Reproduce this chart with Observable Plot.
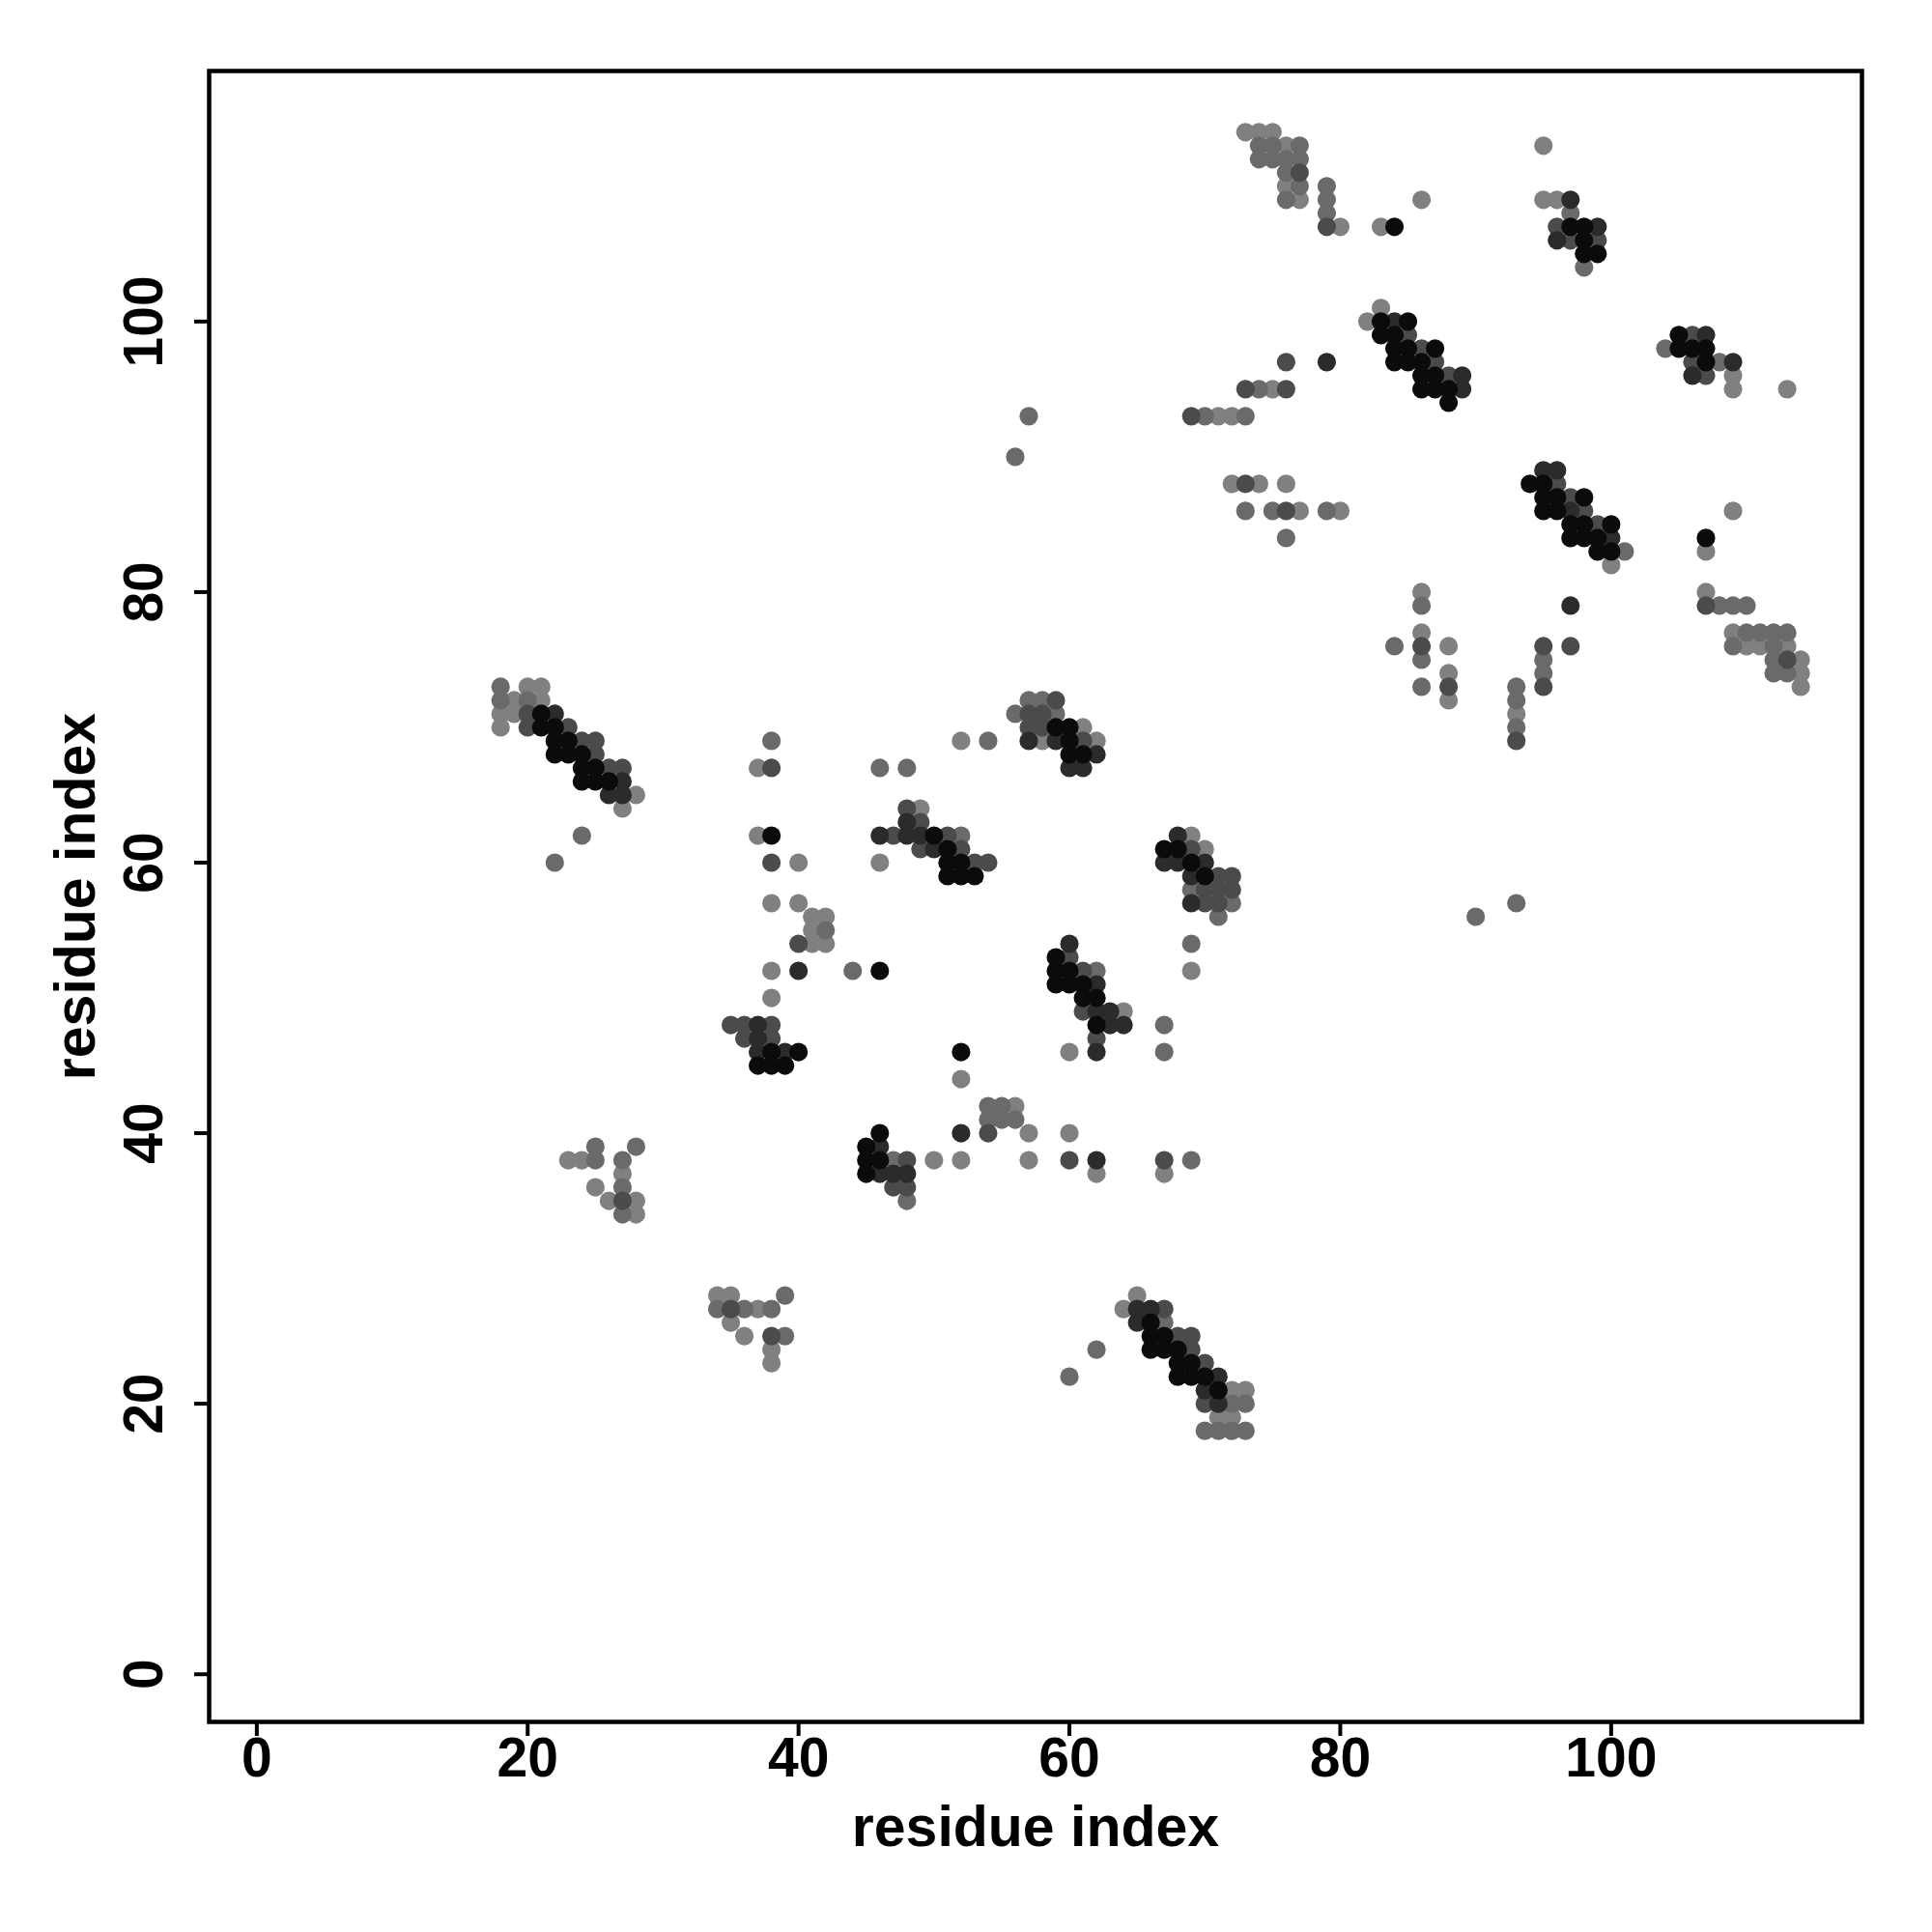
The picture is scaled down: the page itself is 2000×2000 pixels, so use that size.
<!DOCTYPE html>
<html><head><meta charset="utf-8">
<script src="https://cdn.jsdelivr.net/npm/d3@7"></script>
<script src="https://cdn.jsdelivr.net/npm/@observablehq/plot@0.6"></script>
<style>body{margin:0;background:#fff;} svg{display:block;}</style>
</head><body><div id="chart"></div>
<script>
const xTicks = [0, 20, 40, 60, 80, 100];
const yTicks = [0, 20, 40, 60, 80, 100];
const axisTitle = "residue index";
const shadeColors = ["#0b0b0b", "#2b2b2b", "#4b4b4b", "#6a6a6a", "#808080"];

const contactsBlack = [[84,107],[83,100],[85,100],[83,99],[84,99],[84,98],[85,98],[87,98],[84,97],[85,97],[86,97],[86,96],[87,96],[86,95],[87,95],[88,95],[88,94],
[97,107],[98,107],[98,106],[98,105],[99,105],[105,99],[105,98],[106,98],[107,98],[107,97],
[94,88],[95,88],[95,87],[96,87],[98,87],[95,86],[96,86],[97,85],[98,85],[100,85],[97,84],[98,84],[99,84],[99,83],[100,83],[107,84],
[21,71],[21,70],[22,70],[22,69],[23,69],[22,68],[23,68],[24,68],[24,67],[25,67],[24,66],[25,66],[26,66],[38,62],
[50,62],[51,61],[51,60],[52,60],[51,59],[52,59],[53,59],[46,52],[38,46],[40,46],[37,45],[38,45],[39,45],[52,46],
[59,70],[60,70],[60,69],[60,68],[61,68],
[67,61],[68,61],[69,60],[70,59],
[59,53],[59,52],[60,52],[59,51],[60,51],[61,51],[61,50],[62,50],[62,48],
[46,40],[45,39],[45,38],[46,38],[45,37],
[66,26],[66,25],[67,25],[66,24],[67,24],[68,24],[68,23],[69,23],[68,22],[69,22],[70,22],[71,21]];

const contactsDark = [[84,100],[79,97],[89,96],[89,95],[97,109],[99,107],[96,106],[107,99],[109,97],[106,96],[95,89],[96,89],[97,86],[100,84],[97,79],
[22,71],[27,66],[26,65],[27,65],[48,63],[46,62],[48,62],[49,62],[50,61],[40,52],[37,48],[37,47],[37,46],[39,46],[62,46],
[57,69],[59,69],[62,68],[60,67],[61,67],
[68,62],[67,60],[68,60],[70,60],[69,59],[69,57],
[60,54],[62,51],[62,49],[63,49],[63,48],[64,48],
[52,40],[46,39],[46,37],[47,37],[48,37],[62,38],
[65,27],[66,27],[65,26],[71,22],[70,21],[71,20]];

const contactsMedium = [[79,107],[77,111],[85,99],[86,98],[87,97],[76,97],[88,96],[73,95],[76,95],[69,93],[73,88],[76,86],
[96,107],[97,106],[99,106],[106,99],[106,97],[107,96],[96,88],[97,87],[98,86],[99,85],
[107,79],[86,76],[95,76],[97,76],[113,75],[88,73],[95,73],[93,69],
[20,71],[20,70],[23,70],[24,69],[25,69],[25,68],[26,67],[27,67],[38,67],[38,60],
[48,64],[49,63],[47,62],[51,62],[49,61],[52,61],[53,60],[54,60],[40,54],[35,48],[36,48],[38,48],[36,47],[38,47],
[59,72],[57,71],[58,71],[57,70],[58,70],[61,69],
[69,61],[71,59],[72,59],[70,58],[71,58],[72,58],[70,57],[71,57],
[60,53],[61,52],[61,49],[62,47],
[54,40],[48,38],[60,38],[47,36],[48,36],[67,38],
[27,35],[35,27],[38,25],
[67,27],[68,25],[69,25],[69,24],[70,23],[70,20]];

const contactsGray = [[74,113],[75,113],[77,113],[74,112],[75,112],[76,112],[77,112],[76,111],[77,110],[79,110],[76,109],[79,109],[79,108],
[74,95],[70,93],[73,93],[73,86],[75,86],[79,86],[76,84],[57,93],[56,90],
[97,108],[98,104],[104,98],[108,97],[101,83],
[86,79],[108,79],[109,79],[110,79],[110,77],[111,77],[112,77],[113,77],[84,76],[109,76],[112,76],[86,75],[95,75],[112,75],[95,74],[112,74],[113,74],[86,73],[93,73],[93,72],[93,70],[93,57],[90,56],
[18,73],[18,72],[20,72],[24,62],[22,60],[38,69],
[54,69],[46,67],[48,67],[52,62],[42,55],[44,52],
[57,72],[58,72],[56,71],[59,71],
[69,58],[72,57],[71,56],[69,54],
[62,52],[67,48],[67,46],
[54,42],[55,42],[54,41],[55,41],[56,41],[47,38],[48,35],[69,38],
[25,39],[28,39],[25,38],[27,38],[27,36],[27,34],
[39,28],[34,27],[36,27],[38,27],[39,25],
[67,26],[62,24],[60,22],[72,20],[73,20],[70,18],[71,18],[72,18],[73,18]];

const contactsLight = [[73,114],[74,114],[75,114],[76,113],[76,110],[77,109],[86,109],[80,107],[83,107],[83,101],[82,100],
[75,95],[71,93],[72,93],[72,88],[74,88],[76,88],[77,86],[80,86],
[95,113],[95,109],[96,109],[109,96],[109,95],[113,95],[100,82],[107,83],[109,86],
[86,80],[107,80],[86,77],[109,77],[88,76],[110,76],[111,76],[113,76],[114,75],[88,74],[114,74],[114,73],[88,72],[93,71],
[20,73],[21,73],[19,72],[21,72],[18,71],[19,71],[18,70],[28,65],[27,64],[37,67],[37,62],[40,60],
[52,69],[49,64],[46,60],[38,57],[40,57],[41,56],[42,56],[41,55],[41,54],[42,54],[38,52],[38,50],[60,46],[52,44],
[61,70],[58,69],[62,69],
[69,62],[70,61],[69,52],[64,49],
[56,42],[57,40],[60,40],[50,38],[52,38],[57,38],[62,37],[67,37],
[23,38],[24,38],[27,37],[25,36],[26,35],[28,35],[28,34],
[34,28],[35,28],[37,27],[35,26],[36,25],[38,24],[38,23],
[65,28],[64,27],[72,21],[73,21],[71,19],[72,19]];

const layers = [contactsLight, contactsGray, contactsMedium, contactsDark, contactsBlack];
const layerShade = [4, 3, 2, 1, 0];

const font = "'Liberation Sans', Arial, Helvetica, sans-serif";
const dotMarks = layers.map((pts, i) =>
  Plot.dot(pts, {x: d => d[0], y: d => d[1], r: 9.6, fill: shadeColors[layerShade[i]], stroke: "none"})
);

const chart = Plot.plot({
  width: 2000,
  height: 2000,
  marginLeft: 216,
  marginRight: 73,
  marginTop: 73,
  marginBottom: 218,
  style: {fontFamily: font, background: "white"},
  x: {domain: [-3.52, 118.52]},
  y: {domain: [-3.52, 118.52]},
  marks: [
    ...dotMarks,
    Plot.frame({stroke: "black", strokeWidth: 4.5}),
    Plot.axisX({ticks: xTicks, tickSize: 15, strokeWidth: 4, tickFormat: () => "", label: null}),
    Plot.axisY({ticks: yTicks, tickSize: 15, strokeWidth: 4, tickFormat: () => "", label: null}),
    Plot.text(xTicks, {x: d => d, text: d => String(d), frameAnchor: "bottom", dy: 38, lineAnchor: "middle", fontSize: 57, fontWeight: "bold", fill: "black"}),
    Plot.text(yTicks, {y: d => d, text: d => String(d), frameAnchor: "left", dx: -67, rotate: -90, textAnchor: "middle", lineAnchor: "middle", fontSize: 57, fontWeight: "bold", fill: "black"}),
    Plot.text([axisTitle], {text: d => d, frameAnchor: "bottom", dy: 110, lineAnchor: "middle", fontSize: 59, fontWeight: "bold", fill: "black"}),
    Plot.text([axisTitle], {text: d => d, frameAnchor: "left", dx: -137, rotate: -90, textAnchor: "middle", lineAnchor: "middle", fontSize: 59, fontWeight: "bold", fill: "black"})
  ]
});
document.getElementById("chart").appendChild(chart);
</script>
</body></html>
